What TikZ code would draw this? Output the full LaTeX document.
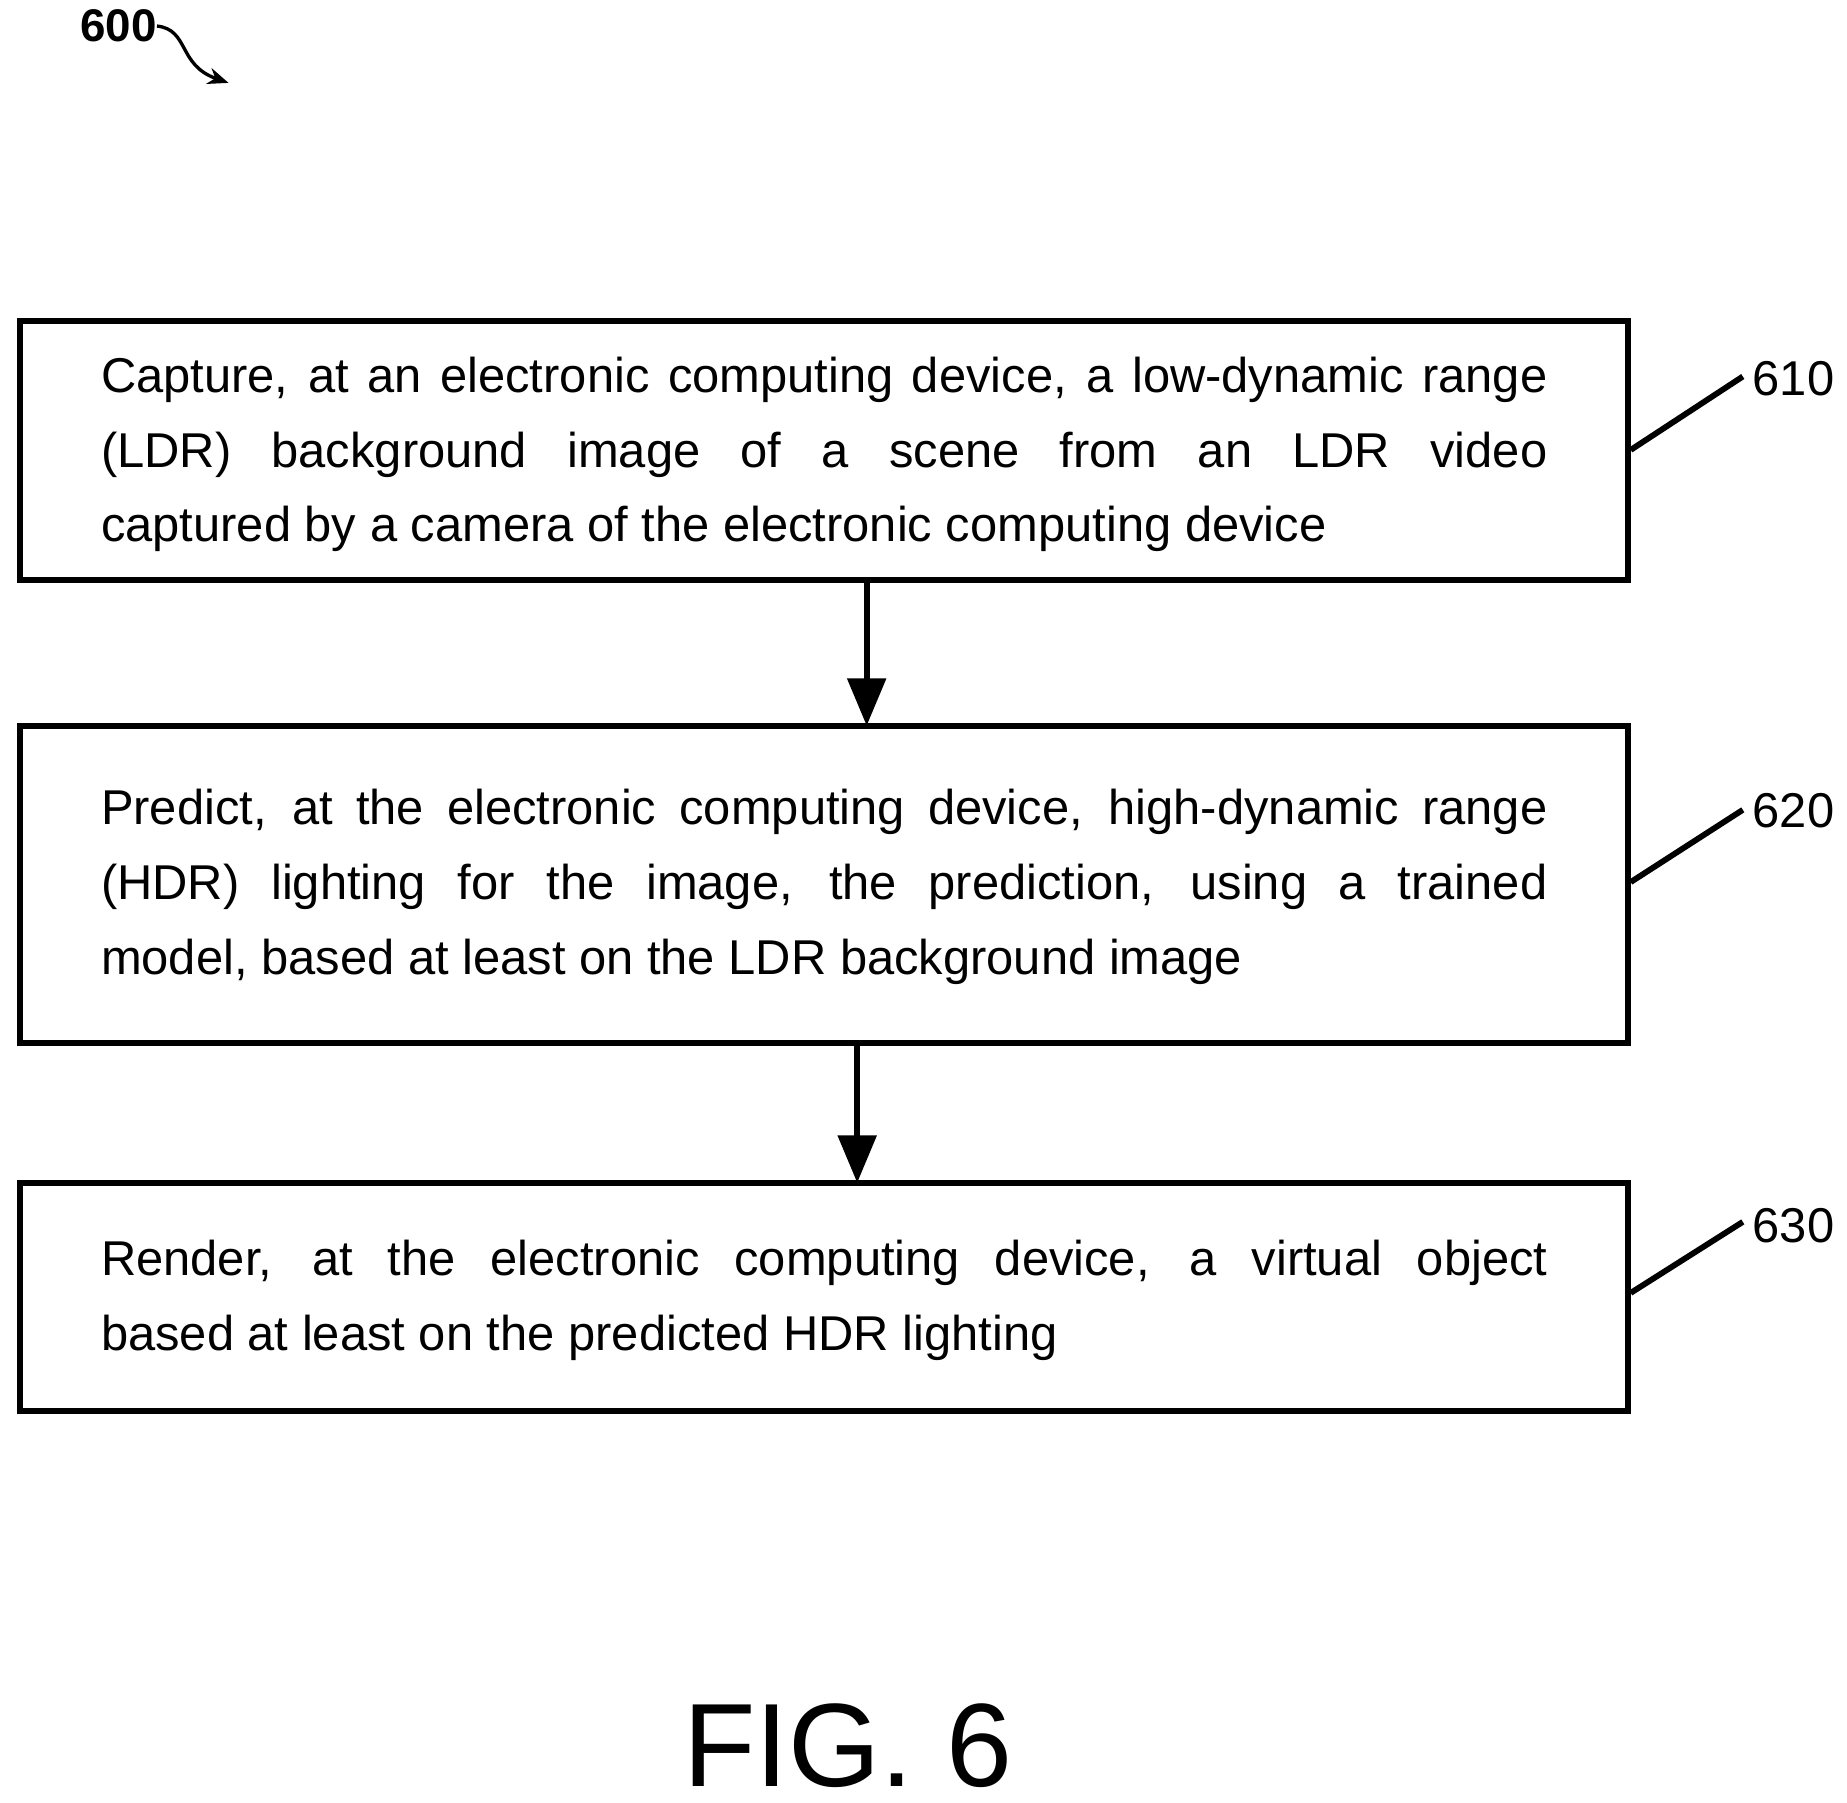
\documentclass[tikz,border=0pt]{standalone}
\usepackage{fontspec}
\setmainfont{Liberation Sans}
\usetikzlibrary{arrows.meta,calc}
\begin{document}
\begin{tikzpicture}[x=0.02cm,y=-0.02cm,
  box/.style={draw,line width=2.8pt,minimum width=27.16cm,inner sep=0pt},
  txt/.style={anchor=north west,text width=24.44cm,align=justify,inner sep=0pt,font=\fontsize{23.5}{36}\selectfont},
  lead/.style={line width=2.8pt},
  num/.style={anchor=west,inner sep=0pt,font=\fontsize{23.5}{28}\selectfont},
  arr/.style={line width=2.8pt,-{Triangle[length=0.8cm,width=0.64cm]}}]
\useasboundingbox (0,0) rectangle (1560,1522);
\node[box,minimum height=4.38cm] (b1) at (696,380.5) {};
\node[box,minimum height=5.36cm] (b2) at (696,747) {};
\node[box,minimum height=3.86cm] (b3) at (696,1095.5) {};
\node[txt] (t1) at (85,301) {Capture, at an electronic computing device, a low-dynamic range\linebreak (LDR) background image of a scene from an LDR video\linebreak captured by a camera of the electronic computing device};
\node[txt] (t2) at (85,666) {Predict, at the electronic computing device, high-dynamic range\linebreak (HDR) lighting for the image, the prediction, using a trained\linebreak model, based at least on the LDR background image};
\node[txt] (t3) at (85,1047) {Render, at the electronic computing device, a virtual object\linebreak based at least on the predicted HDR lighting};
\coordinate (a1) at (732,490); \coordinate (a2) at (732,613);
\coordinate (a3) at (724,881); \coordinate (a4) at (724,999);
\draw[arr] (a1) -- (a2);
\draw[arr] (a3) -- (a4);
\node[num] (n1) at (1480,320) {610};
\node[num] (n2) at (1480,685) {620};
\node[num] (n3) at (1480,1035) {630};
\draw[lead] (b1.east |- 0,380) -- (1472,318);
\draw[lead] (b2.east |- 0,745) -- (1472,684);
\draw[lead] (b3.east |- 0,1092) -- (1472,1032);
\node[inner sep=0pt,font=\bfseries\fontsize{22}{26}\selectfont] (n600) at (100,22) {600};
\draw[line width=1.6pt,-{Stealth[length=0.35cm,width=0.28cm]}] (n600.east) .. controls (160,25) and (150,55) .. (193,70);
\node[inner sep=0pt,font=\fontsize{57}{66}\selectfont] (fig) at (716,1474) {FIG. 6};
\end{tikzpicture}
\end{document}
